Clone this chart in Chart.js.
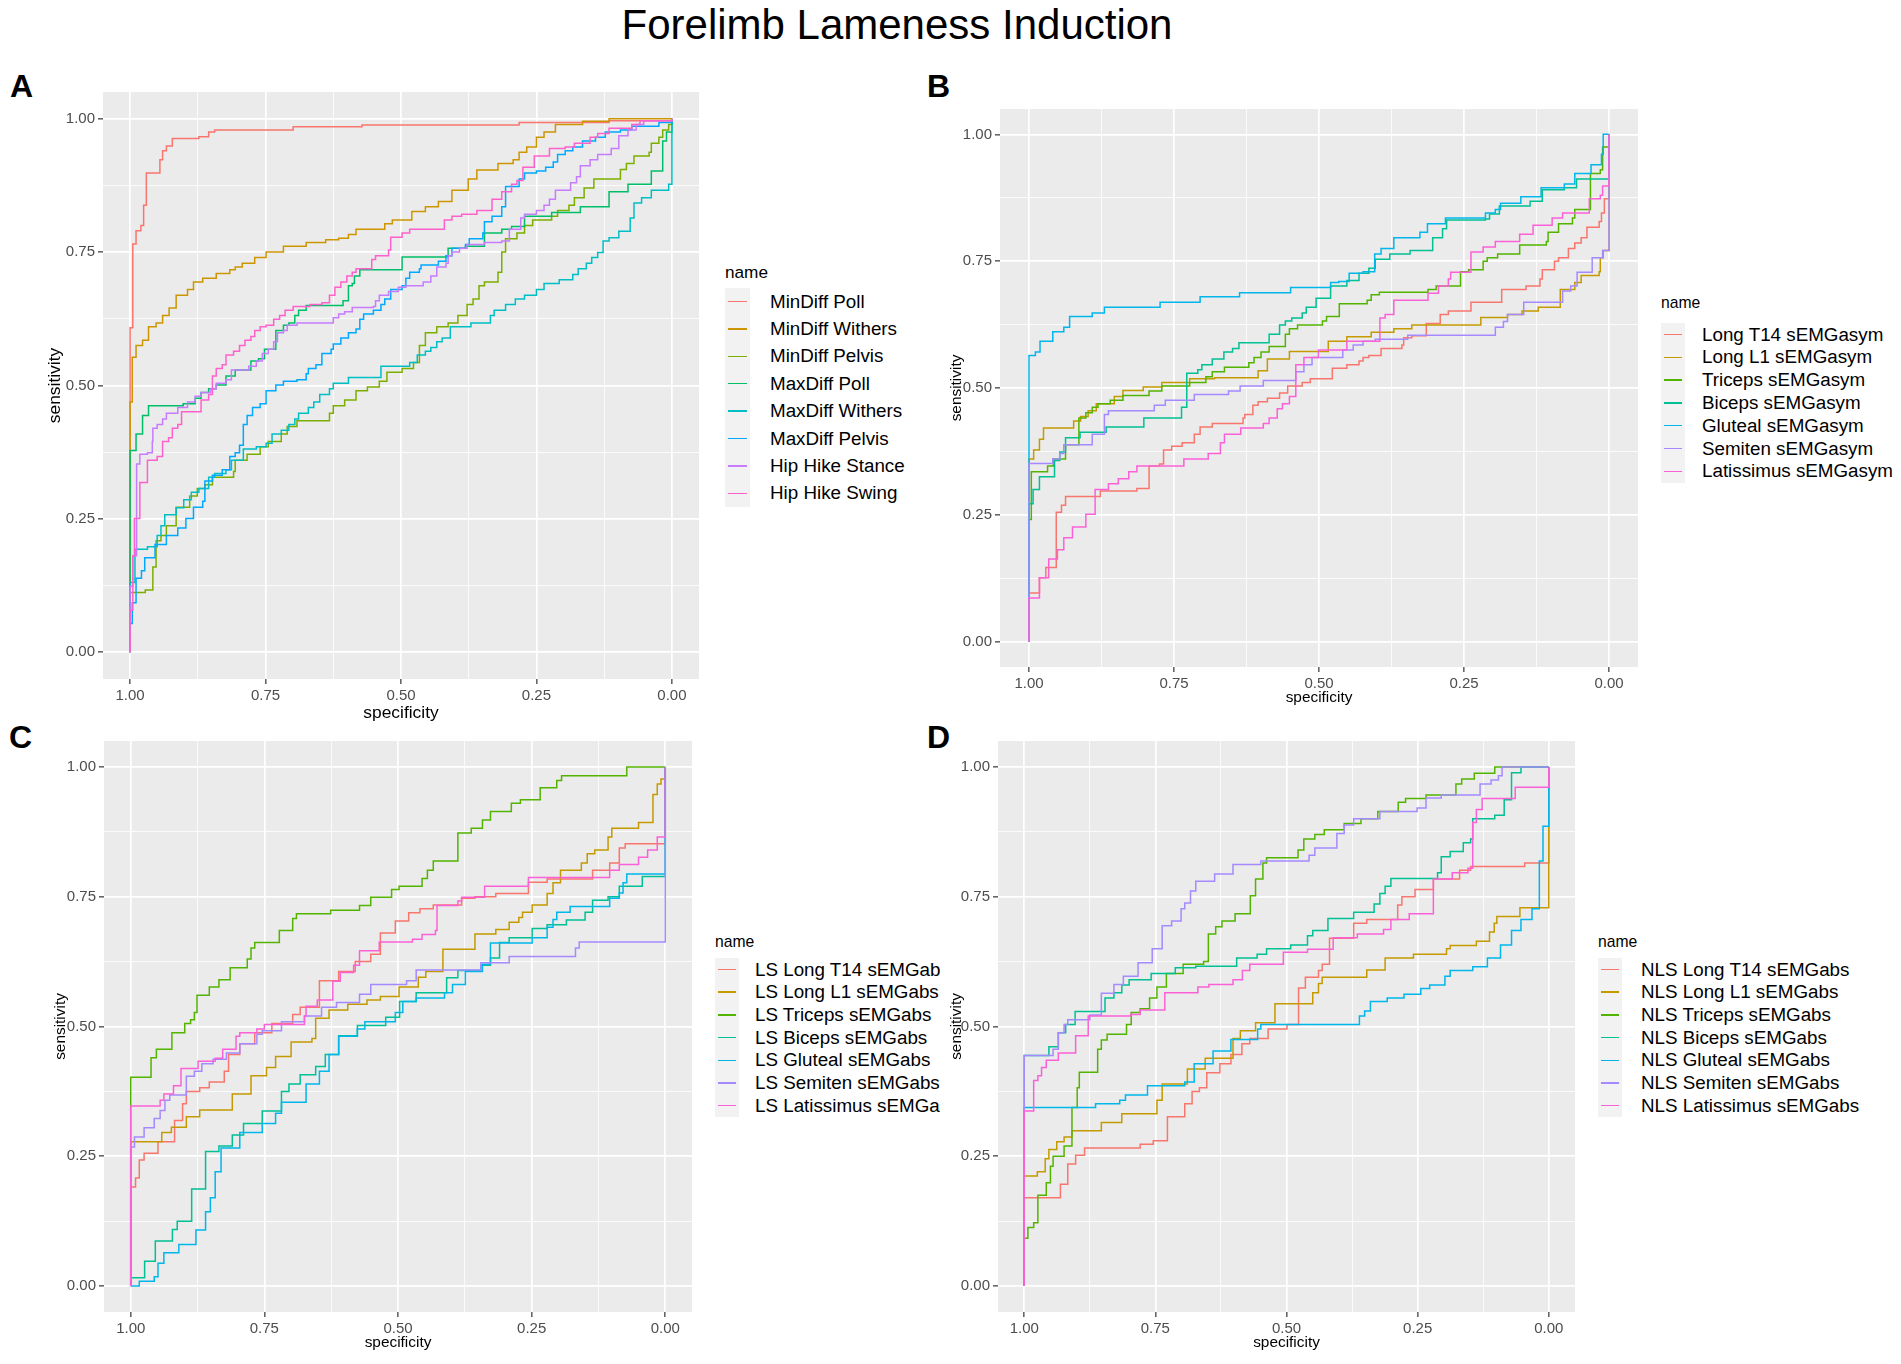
<!DOCTYPE html>
<html>
<head>
<meta charset="utf-8">
<script src="https://cdn.jsdelivr.net/npm/chart.js@4.4.1/dist/chart.umd.min.js"></script>
<style>
html,body{margin:0;padding:0;background:#ffffff;}
#page{position:relative;width:1901px;height:1364px;overflow:hidden;background:#fff;font-family:"Liberation Sans",Arial,Helvetica,sans-serif;color:#000;}
.t{position:absolute;white-space:nowrap;line-height:1;}
canvas{position:absolute;}
</style>
</head>
<body>
<div id="page"></div>
<script>
// ---------------- DATA ----------------
const majorTicks = [0, 0.25, 0.5, 0.75, 1];
const minorTicks = [0.125, 0.375, 0.625, 0.875];
const tickLabels = ['0.00', '0.25', '0.50', '0.75', '1.00'];

const hue8 = ['#F8766D','#CD9600','#7CAE00','#00BE67','#00BFC4','#00A9FF','#C77CFF','#FF61CC'];
const hue7 = ['#F8766D','#C49A00','#53B400','#00C094','#00B6EB','#A58AFF','#FB61D7'];

const namesA = ['MinDiff Poll','MinDiff Withers','MinDiff Pelvis','MaxDiff Poll','MaxDiff Withers','MaxDiff Pelvis','Hip Hike Stance','Hip Hike Swing'];
const namesB = ['Long T14 sEMGasym','Long L1 sEMGasym','Triceps sEMGasym','Biceps sEMGasym','Gluteal sEMGasym','Semiten sEMGasym','Latissimus sEMGasym'];
const namesC = ['LS Long T14 sEMGab','LS Long L1 sEMGabs','LS Triceps sEMGabs','LS Biceps sEMGabs','LS Gluteal sEMGabs','LS Semiten sEMGabs','LS Latissimus sEMGa'];
const namesD = ['NLS Long T14 sEMGabs','NLS Long L1 sEMGabs','NLS Triceps sEMGabs','NLS Biceps sEMGabs','NLS Gluteal sEMGabs','NLS Semiten sEMGabs','NLS Latissimus sEMGabs'];

// each pair = [specificity, sensitivity]
const A_MinDiffPoll = [[1,0],[1,0.608],[0.995,0.765],[0.989,0.79],[0.98,0.8],[0.975,0.838],[0.97,0.898],[0.945,0.923],[0.94,0.94],[0.933,0.949],[0.922,0.963],[0.873,0.966],[0.855,0.975],[0.844,0.979],[0.699,0.985],[0.572,0.988],[0.282,0.993],[0.116,0.996],[0,1]];
const A_MinDiffWithers = [[1,0],[1,0.469],[0.996,0.553],[0.989,0.575],[0.977,0.585],[0.966,0.61],[0.952,0.617],[0.94,0.631],[0.928,0.645],[0.915,0.669],[0.894,0.68],[0.883,0.694],[0.866,0.701],[0.841,0.71],[0.816,0.717],[0.806,0.722],[0.793,0.729],[0.77,0.74],[0.749,0.75],[0.717,0.761],[0.675,0.768],[0.639,0.773],[0.615,0.776],[0.597,0.783],[0.583,0.793],[0.53,0.803],[0.516,0.81],[0.48,0.826],[0.455,0.835],[0.431,0.845],[0.406,0.866],[0.376,0.887],[0.36,0.904],[0.321,0.916],[0.293,0.923],[0.282,0.937],[0.268,0.947],[0.25,0.965],[0.236,0.975],[0.215,0.989],[0.165,0.995],[0.116,1],[0,1]];
const A_MinDiffPelvis = [[1,0],[1,0.112],[0.972,0.117],[0.958,0.16],[0.952,0.209],[0.943,0.219],[0.933,0.237],[0.915,0.272],[0.89,0.293],[0.876,0.307],[0.862,0.314],[0.848,0.328],[0.809,0.339],[0.806,0.36],[0.784,0.371],[0.76,0.385],[0.745,0.395],[0.721,0.409],[0.71,0.423],[0.692,0.434],[0.632,0.448],[0.625,0.462],[0.604,0.473],[0.583,0.49],[0.562,0.497],[0.54,0.508],[0.526,0.525],[0.498,0.532],[0.477,0.543],[0.466,0.575],[0.455,0.599],[0.434,0.61],[0.413,0.617],[0.395,0.631],[0.378,0.652],[0.367,0.662],[0.356,0.687],[0.346,0.694],[0.321,0.712],[0.314,0.75],[0.307,0.775],[0.286,0.786],[0.272,0.8],[0.257,0.81],[0.222,0.817],[0.211,0.828],[0.19,0.838],[0.18,0.852],[0.162,0.87],[0.144,0.887],[0.095,0.905],[0.084,0.916],[0.07,0.93],[0.042,0.937],[0.038,0.954],[0.024,0.965],[0.017,0.979],[0.006,0.989],[0,1]];
const A_MaxDiffPoll = [[1,0],[1,0.378],[0.989,0.409],[0.977,0.444],[0.966,0.462],[0.902,0.466],[0.88,0.476],[0.869,0.487],[0.855,0.494],[0.841,0.501],[0.823,0.518],[0.806,0.529],[0.777,0.546],[0.763,0.55],[0.752,0.568],[0.731,0.603],[0.717,0.613],[0.707,0.617],[0.696,0.631],[0.689,0.641],[0.675,0.65],[0.607,0.659],[0.597,0.687],[0.59,0.691],[0.586,0.705],[0.576,0.717],[0.498,0.741],[0.413,0.757],[0.381,0.761],[0.346,0.786],[0.314,0.793],[0.296,0.798],[0.272,0.817],[0.222,0.824],[0.169,0.835],[0.116,0.863],[0.081,0.877],[0.038,0.902],[0.017,0.958],[0.01,0.975],[0,1]];
const A_MaxDiffWithers = [[1,0],[1,0.131],[0.991,0.193],[0.968,0.198],[0.95,0.219],[0.943,0.237],[0.936,0.258],[0.915,0.271],[0.901,0.286],[0.887,0.3],[0.873,0.307],[0.855,0.328],[0.844,0.335],[0.823,0.342],[0.813,0.36],[0.791,0.381],[0.767,0.385],[0.749,0.392],[0.738,0.409],[0.721,0.416],[0.707,0.427],[0.696,0.437],[0.689,0.448],[0.671,0.459],[0.661,0.469],[0.65,0.483],[0.632,0.494],[0.625,0.504],[0.597,0.515],[0.537,0.536],[0.484,0.543],[0.47,0.557],[0.455,0.564],[0.445,0.571],[0.434,0.582],[0.424,0.589],[0.409,0.61],[0.371,0.617],[0.335,0.631],[0.328,0.641],[0.307,0.652],[0.289,0.662],[0.272,0.669],[0.25,0.68],[0.236,0.691],[0.208,0.698],[0.183,0.708],[0.173,0.719],[0.158,0.729],[0.148,0.74],[0.137,0.749],[0.127,0.771],[0.116,0.777],[0.098,0.789],[0.077,0.814],[0.07,0.842],[0.056,0.852],[0.038,0.866],[0.006,0.877],[0,0.926],[0,1]];
const A_MaxDiffPelvis = [[1,0],[1,0.054],[0.996,0.093],[0.989,0.139],[0.979,0.153],[0.973,0.177],[0.954,0.202],[0.933,0.219],[0.912,0.233],[0.897,0.251],[0.883,0.272],[0.866,0.283],[0.862,0.321],[0.848,0.332],[0.83,0.342],[0.816,0.367],[0.806,0.374],[0.798,0.388],[0.791,0.427],[0.784,0.444],[0.774,0.459],[0.76,0.466],[0.749,0.49],[0.731,0.501],[0.717,0.508],[0.692,0.511],[0.675,0.522],[0.671,0.532],[0.657,0.539],[0.646,0.56],[0.629,0.568],[0.625,0.578],[0.611,0.589],[0.597,0.599],[0.583,0.606],[0.576,0.624],[0.569,0.634],[0.551,0.641],[0.537,0.652],[0.53,0.662],[0.519,0.68],[0.498,0.687],[0.491,0.701],[0.484,0.712],[0.466,0.719],[0.463,0.726],[0.431,0.733],[0.417,0.743],[0.406,0.757],[0.381,0.764],[0.374,0.775],[0.349,0.786],[0.346,0.807],[0.332,0.817],[0.314,0.835],[0.307,0.873],[0.282,0.887],[0.272,0.898],[0.25,0.902],[0.233,0.909],[0.219,0.919],[0.211,0.933],[0.197,0.94],[0.183,0.947],[0.165,0.958],[0.141,0.965],[0.123,0.975],[0.095,0.979],[0.074,0.986],[0.024,0.993],[0,1]];
const A_HipHikeStance = [[1,0],[1,0.124],[0.995,0.181],[0.988,0.353],[0.982,0.371],[0.968,0.374],[0.959,0.395],[0.958,0.42],[0.95,0.427],[0.94,0.437],[0.933,0.448],[0.912,0.459],[0.894,0.469],[0.88,0.48],[0.869,0.487],[0.851,0.494],[0.841,0.504],[0.823,0.511],[0.813,0.529],[0.781,0.536],[0.767,0.546],[0.756,0.56],[0.745,0.568],[0.735,0.582],[0.728,0.599],[0.717,0.603],[0.71,0.613],[0.692,0.617],[0.625,0.627],[0.615,0.634],[0.604,0.638],[0.59,0.646],[0.551,0.648],[0.547,0.659],[0.54,0.669],[0.523,0.676],[0.505,0.684],[0.491,0.687],[0.459,0.694],[0.445,0.705],[0.434,0.722],[0.417,0.729],[0.413,0.743],[0.406,0.75],[0.392,0.757],[0.378,0.764],[0.346,0.768],[0.314,0.771],[0.3,0.793],[0.279,0.814],[0.272,0.821],[0.25,0.828],[0.236,0.838],[0.226,0.849],[0.215,0.866],[0.187,0.88],[0.176,0.891],[0.169,0.912],[0.151,0.923],[0.137,0.933],[0.112,0.944],[0.098,0.968],[0.081,0.979],[0.066,0.989],[0.052,0.996],[0,1]];
const A_HipHikeSwing = [[1,0],[1,0.079],[0.995,0.181],[0.992,0.251],[0.982,0.318],[0.968,0.36],[0.95,0.367],[0.94,0.395],[0.929,0.402],[0.922,0.42],[0.912,0.427],[0.905,0.451],[0.869,0.473],[0.855,0.483],[0.848,0.518],[0.841,0.532],[0.83,0.539],[0.823,0.557],[0.809,0.564],[0.798,0.575],[0.788,0.585],[0.777,0.592],[0.77,0.603],[0.76,0.61],[0.749,0.613],[0.735,0.624],[0.724,0.631],[0.714,0.641],[0.699,0.648],[0.668,0.652],[0.646,0.655],[0.632,0.669],[0.622,0.684],[0.611,0.694],[0.6,0.705],[0.59,0.712],[0.583,0.719],[0.554,0.736],[0.547,0.743],[0.523,0.754],[0.519,0.778],[0.498,0.786],[0.484,0.793],[0.42,0.81],[0.406,0.817],[0.388,0.821],[0.36,0.828],[0.332,0.849],[0.314,0.863],[0.296,0.877],[0.286,0.884],[0.275,0.909],[0.254,0.93],[0.226,0.944],[0.197,0.947],[0.18,0.954],[0.151,0.965],[0.137,0.972],[0.116,0.982],[0.074,0.989],[0.059,0.996],[0,1]];

const B_LongT14 = [[1,0],[1,0.096],[0.982,0.126],[0.971,0.146],[0.953,0.255],[0.944,0.269],[0.937,0.286],[0.877,0.297],[0.814,0.302],[0.793,0.346],[0.775,0.35],[0.768,0.378],[0.754,0.385],[0.736,0.392],[0.715,0.409],[0.705,0.423],[0.684,0.43],[0.631,0.441],[0.628,0.448],[0.614,0.466],[0.605,0.473],[0.589,0.48],[0.568,0.49],[0.554,0.504],[0.529,0.511],[0.515,0.518],[0.477,0.539],[0.452,0.546],[0.431,0.553],[0.424,0.56],[0.414,0.564],[0.393,0.578],[0.357,0.585],[0.354,0.599],[0.34,0.603],[0.315,0.627],[0.291,0.645],[0.277,0.652],[0.238,0.669],[0.185,0.694],[0.143,0.701],[0.119,0.715],[0.115,0.733],[0.094,0.75],[0.087,0.757],[0.07,0.775],[0.059,0.786],[0.048,0.796],[0.038,0.817],[0.017,0.828],[0.013,0.845],[0.008,0.873],[0,0.873],[0,1]];
const B_LongL1 = [[1,0],[1,0.36],[0.992,0.378],[0.982,0.399],[0.975,0.421],[0.923,0.435],[0.911,0.444],[0.898,0.455],[0.884,0.469],[0.853,0.483],[0.838,0.495],[0.803,0.502],[0.771,0.511],[0.723,0.518],[0.68,0.52],[0.605,0.534],[0.589,0.557],[0.551,0.572],[0.484,0.592],[0.452,0.601],[0.41,0.61],[0.371,0.617],[0.34,0.624],[0.221,0.639],[0.175,0.645],[0.15,0.652],[0.122,0.659],[0.084,0.694],[0.059,0.708],[0.048,0.722],[0.017,0.729],[0.015,0.757],[0.01,0.771],[0,0.775],[0,1]];
const B_Triceps = [[1,0],[1,0.241],[0.996,0.335],[0.968,0.346],[0.958,0.36],[0.937,0.388],[0.914,0.441],[0.902,0.451],[0.891,0.462],[0.881,0.469],[0.86,0.476],[0.838,0.485],[0.793,0.494],[0.771,0.504],[0.723,0.511],[0.695,0.522],[0.684,0.532],[0.663,0.541],[0.621,0.55],[0.612,0.56],[0.6,0.571],[0.586,0.582],[0.558,0.606],[0.551,0.617],[0.537,0.624],[0.494,0.632],[0.487,0.641],[0.465,0.666],[0.417,0.673],[0.41,0.684],[0.396,0.689],[0.312,0.694],[0.298,0.701],[0.256,0.729],[0.242,0.733],[0.217,0.75],[0.21,0.757],[0.192,0.764],[0.154,0.782],[0.108,0.789],[0.105,0.807],[0.087,0.824],[0.063,0.835],[0.059,0.852],[0.032,0.923],[0.015,0.93],[0.011,0.975],[0,0.977],[0,1]];
const B_Biceps = [[1,0],[1,0.272],[0.993,0.3],[0.982,0.325],[0.956,0.357],[0.947,0.374],[0.937,0.402],[0.912,0.413],[0.867,0.423],[0.802,0.441],[0.737,0.462],[0.728,0.529],[0.709,0.536],[0.702,0.546],[0.684,0.557],[0.664,0.571],[0.649,0.578],[0.638,0.589],[0.586,0.606],[0.568,0.624],[0.558,0.632],[0.547,0.638],[0.529,0.648],[0.522,0.659],[0.505,0.677],[0.48,0.701],[0.452,0.712],[0.431,0.726],[0.414,0.736],[0.403,0.754],[0.378,0.764],[0.343,0.771],[0.304,0.796],[0.287,0.814],[0.28,0.831],[0.213,0.833],[0.206,0.843],[0.189,0.859],[0.136,0.868],[0.115,0.891],[0.077,0.895],[0.056,0.912],[0,0.912],[0,1]];
const B_Gluteal = [[1,0],[1,0.564],[0.989,0.571],[0.981,0.592],[0.959,0.611],[0.94,0.62],[0.93,0.641],[0.891,0.648],[0.87,0.659],[0.774,0.669],[0.705,0.68],[0.637,0.688],[0.549,0.698],[0.48,0.708],[0.466,0.71],[0.448,0.726],[0.424,0.729],[0.404,0.764],[0.393,0.775],[0.371,0.796],[0.326,0.807],[0.313,0.824],[0.282,0.835],[0.213,0.845],[0.196,0.852],[0.187,0.864],[0.152,0.877],[0.117,0.895],[0.077,0.902],[0.059,0.923],[0.031,0.94],[0.013,0.961],[0.01,1],[0,1]];
const B_Semiten = [[1,0],[1,0.351],[0.959,0.36],[0.947,0.371],[0.94,0.388],[0.891,0.409],[0.87,0.448],[0.863,0.455],[0.784,0.466],[0.765,0.476],[0.715,0.487],[0.656,0.494],[0.636,0.504],[0.596,0.515],[0.54,0.532],[0.526,0.546],[0.512,0.56],[0.459,0.575],[0.441,0.585],[0.424,0.592],[0.403,0.596],[0.347,0.604],[0.196,0.62],[0.182,0.631],[0.175,0.645],[0.147,0.669],[0.08,0.691],[0.066,0.701],[0.055,0.728],[0.029,0.757],[0.011,0.771],[0,0.775],[0,1]];
const B_Latissimus = [[1,0],[1,0.086],[0.982,0.126],[0.966,0.163],[0.951,0.181],[0.94,0.205],[0.925,0.226],[0.902,0.251],[0.886,0.3],[0.863,0.311],[0.846,0.321],[0.828,0.335],[0.814,0.346],[0.733,0.36],[0.691,0.371],[0.67,0.392],[0.663,0.409],[0.635,0.421],[0.596,0.43],[0.586,0.441],[0.572,0.459],[0.563,0.469],[0.551,0.483],[0.54,0.546],[0.526,0.56],[0.501,0.575],[0.452,0.592],[0.395,0.638],[0.386,0.645],[0.371,0.673],[0.312,0.687],[0.294,0.701],[0.277,0.715],[0.273,0.728],[0.238,0.768],[0.217,0.778],[0.196,0.789],[0.154,0.803],[0.131,0.821],[0.098,0.835],[0.08,0.845],[0.034,0.873],[0.015,0.88],[0.011,0.898],[0,0.902],[0,1]];

const C_LongT14 = [[1,0],[1,0.191],[0.991,0.208],[0.984,0.243],[0.975,0.256],[0.949,0.278],[0.918,0.319],[0.903,0.351],[0.896,0.375],[0.871,0.382],[0.853,0.393],[0.825,0.414],[0.817,0.446],[0.796,0.467],[0.768,0.488],[0.736,0.506],[0.697,0.523],[0.683,0.537],[0.647,0.588],[0.611,0.606],[0.58,0.625],[0.551,0.639],[0.533,0.68],[0.505,0.703],[0.48,0.719],[0.459,0.727],[0.434,0.734],[0.381,0.747],[0.356,0.75],[0.317,0.756],[0.256,0.778],[0.221,0.784],[0.136,0.801],[0.104,0.815],[0.086,0.844],[0.075,0.852],[0,0.852],[0,1]];
const C_LongL1 = [[1,0],[1,0.278],[0.942,0.296],[0.924,0.306],[0.896,0.326],[0.871,0.339],[0.81,0.37],[0.775,0.405],[0.746,0.421],[0.729,0.442],[0.7,0.47],[0.661,0.477],[0.654,0.516],[0.629,0.532],[0.594,0.543],[0.558,0.551],[0.533,0.558],[0.498,0.576],[0.462,0.595],[0.448,0.606],[0.416,0.649],[0.356,0.678],[0.317,0.687],[0.292,0.701],[0.274,0.71],[0.267,0.72],[0.249,0.734],[0.221,0.756],[0.21,0.777],[0.196,0.801],[0.157,0.815],[0.146,0.833],[0.132,0.84],[0.107,0.865],[0.1,0.882],[0.05,0.893],[0.023,0.947],[0.015,0.967],[0.008,0.977],[0,1]];
const C_Triceps = [[1,0],[1,0.402],[0.962,0.44],[0.952,0.456],[0.923,0.488],[0.899,0.506],[0.888,0.513],[0.881,0.527],[0.876,0.56],[0.853,0.576],[0.835,0.59],[0.814,0.613],[0.782,0.63],[0.775,0.651],[0.768,0.662],[0.722,0.685],[0.697,0.708],[0.69,0.717],[0.626,0.724],[0.572,0.733],[0.551,0.749],[0.512,0.764],[0.498,0.77],[0.455,0.785],[0.445,0.801],[0.434,0.819],[0.388,0.873],[0.363,0.882],[0.342,0.898],[0.327,0.914],[0.288,0.93],[0.271,0.937],[0.234,0.96],[0.203,0.974],[0.194,0.983],[0.072,1],[0,1]];
const C_Biceps = [[1,0],[1,0.016],[0.974,0.048],[0.954,0.087],[0.922,0.109],[0.913,0.125],[0.886,0.187],[0.86,0.259],[0.835,0.27],[0.81,0.291],[0.789,0.313],[0.754,0.337],[0.718,0.375],[0.704,0.389],[0.683,0.407],[0.654,0.423],[0.636,0.446],[0.611,0.482],[0.576,0.502],[0.523,0.518],[0.497,0.548],[0.466,0.565],[0.409,0.594],[0.388,0.608],[0.345,0.618],[0.327,0.632],[0.31,0.662],[0.292,0.671],[0.249,0.689],[0.221,0.696],[0.185,0.705],[0.15,0.72],[0.136,0.743],[0.107,0.75],[0.086,0.77],[0.043,0.789],[0,0.789],[0,1]];
const C_Gluteal = [[1,0],[0.984,0.009],[0.956,0.018],[0.949,0.044],[0.938,0.064],[0.91,0.08],[0.878,0.108],[0.86,0.143],[0.851,0.17],[0.842,0.22],[0.831,0.266],[0.796,0.296],[0.754,0.313],[0.729,0.333],[0.718,0.354],[0.672,0.389],[0.647,0.414],[0.629,0.446],[0.611,0.481],[0.576,0.495],[0.562,0.509],[0.505,0.527],[0.491,0.548],[0.466,0.555],[0.413,0.565],[0.398,0.581],[0.374,0.606],[0.342,0.62],[0.327,0.661],[0.249,0.671],[0.221,0.691],[0.21,0.706],[0.203,0.72],[0.178,0.731],[0.104,0.747],[0.086,0.757],[0.079,0.777],[0.072,0.794],[0,0.796],[0,1]];
const C_Semiten = [[1,0],[1,0.268],[0.993,0.287],[0.975,0.305],[0.956,0.323],[0.945,0.338],[0.936,0.358],[0.927,0.368],[0.896,0.404],[0.881,0.414],[0.867,0.428],[0.846,0.437],[0.821,0.449],[0.796,0.467],[0.764,0.485],[0.754,0.492],[0.718,0.509],[0.675,0.52],[0.643,0.537],[0.615,0.546],[0.572,0.562],[0.551,0.581],[0.484,0.588],[0.466,0.609],[0.345,0.623],[0.292,0.635],[0.168,0.651],[0.161,0.663],[0,0.663],[0,1]];
const C_Latissimus = [[1,0],[1,0.347],[0.945,0.358],[0.938,0.37],[0.92,0.386],[0.906,0.419],[0.874,0.433],[0.842,0.439],[0.828,0.456],[0.803,0.481],[0.796,0.488],[0.764,0.495],[0.75,0.504],[0.675,0.52],[0.672,0.539],[0.651,0.551],[0.622,0.587],[0.608,0.604],[0.583,0.618],[0.572,0.646],[0.535,0.663],[0.473,0.668],[0.455,0.677],[0.43,0.685],[0.427,0.733],[0.388,0.742],[0.381,0.749],[0.338,0.77],[0.256,0.787],[0.104,0.801],[0.086,0.812],[0.05,0.826],[0.033,0.84],[0.015,0.865],[0,0.866],[0,1]];

const D_LongT14 = [[1,0],[1,0.17],[0.931,0.196],[0.917,0.235],[0.902,0.252],[0.885,0.266],[0.779,0.273],[0.754,0.28],[0.727,0.326],[0.694,0.351],[0.68,0.375],[0.666,0.382],[0.652,0.411],[0.627,0.428],[0.606,0.446],[0.585,0.467],[0.57,0.477],[0.535,0.495],[0.499,0.504],[0.477,0.574],[0.464,0.595],[0.439,0.608],[0.432,0.62],[0.418,0.67],[0.372,0.699],[0.347,0.706],[0.288,0.734],[0.28,0.75],[0.255,0.764],[0.22,0.784],[0.17,0.801],[0.149,0.808],[0.046,0.815],[0,0.819],[0,1]];
const D_LongL1 = [[1,0],[1,0.212],[0.975,0.22],[0.96,0.245],[0.953,0.263],[0.938,0.278],[0.924,0.287],[0.909,0.299],[0.853,0.315],[0.814,0.332],[0.747,0.358],[0.737,0.389],[0.689,0.418],[0.655,0.439],[0.602,0.477],[0.588,0.492],[0.559,0.507],[0.522,0.544],[0.45,0.565],[0.439,0.583],[0.432,0.595],[0.347,0.609],[0.312,0.632],[0.258,0.639],[0.195,0.65],[0.188,0.656],[0.138,0.664],[0.113,0.682],[0.104,0.699],[0.099,0.712],[0.055,0.729],[0,0.729],[0,1]];
const D_Triceps = [[1,0],[1,0.092],[0.993,0.113],[0.982,0.122],[0.974,0.175],[0.958,0.199],[0.95,0.231],[0.945,0.25],[0.924,0.27],[0.909,0.344],[0.899,0.382],[0.895,0.412],[0.86,0.456],[0.853,0.474],[0.842,0.485],[0.805,0.504],[0.796,0.527],[0.779,0.534],[0.761,0.555],[0.747,0.576],[0.729,0.602],[0.697,0.62],[0.658,0.625],[0.649,0.678],[0.635,0.692],[0.623,0.703],[0.598,0.717],[0.569,0.752],[0.559,0.784],[0.545,0.815],[0.538,0.825],[0.478,0.84],[0.467,0.861],[0.446,0.87],[0.428,0.879],[0.39,0.891],[0.358,0.9],[0.326,0.914],[0.287,0.932],[0.273,0.939],[0.234,0.946],[0.177,0.967],[0.166,0.977],[0.142,0.988],[0.103,1],[0,1]];
const D_Biceps = [[1,0],[1,0.444],[0.953,0.461],[0.935,0.488],[0.921,0.504],[0.903,0.529],[0.846,0.555],[0.829,0.565],[0.814,0.58],[0.8,0.59],[0.758,0.602],[0.712,0.613],[0.673,0.616],[0.595,0.632],[0.556,0.639],[0.538,0.65],[0.492,0.657],[0.46,0.675],[0.45,0.685],[0.421,0.708],[0.372,0.72],[0.333,0.736],[0.322,0.756],[0.312,0.77],[0.301,0.785],[0.212,0.796],[0.205,0.827],[0.188,0.837],[0.163,0.854],[0.149,0.861],[0.145,0.9],[0.103,0.907],[0.085,0.937],[0.071,0.989],[0.053,1],[0,1]];
const D_Gluteal = [[1,0],[1,0.344],[0.864,0.351],[0.818,0.358],[0.807,0.368],[0.765,0.386],[0.694,0.393],[0.676,0.428],[0.64,0.453],[0.606,0.475],[0.555,0.495],[0.549,0.504],[0.361,0.52],[0.351,0.53],[0.34,0.548],[0.308,0.555],[0.276,0.562],[0.244,0.573],[0.227,0.58],[0.198,0.597],[0.188,0.608],[0.145,0.615],[0.117,0.632],[0.092,0.657],[0.071,0.685],[0.053,0.706],[0.032,0.727],[0.018,0.819],[0.011,0.886],[0,0.96],[0,1]];
const D_Semiten = [[1,0],[1,0.444],[0.945,0.456],[0.935,0.488],[0.924,0.504],[0.917,0.513],[0.875,0.522],[0.853,0.564],[0.829,0.581],[0.811,0.597],[0.783,0.623],[0.756,0.65],[0.737,0.694],[0.719,0.703],[0.701,0.727],[0.694,0.738],[0.683,0.761],[0.673,0.78],[0.637,0.794],[0.602,0.812],[0.549,0.819],[0.457,0.83],[0.446,0.844],[0.404,0.872],[0.39,0.888],[0.372,0.9],[0.322,0.914],[0.251,0.921],[0.234,0.94],[0.205,0.946],[0.131,0.967],[0.11,0.975],[0.096,0.983],[0.089,1],[0,1]];
const D_Latissimus = [[1,0],[1,0.337],[0.982,0.396],[0.974,0.405],[0.967,0.421],[0.958,0.435],[0.935,0.449],[0.902,0.482],[0.878,0.52],[0.797,0.523],[0.779,0.532],[0.732,0.565],[0.669,0.576],[0.648,0.581],[0.602,0.59],[0.584,0.608],[0.57,0.62],[0.506,0.643],[0.46,0.649],[0.411,0.671],[0.365,0.678],[0.315,0.687],[0.301,0.706],[0.266,0.717],[0.22,0.784],[0.184,0.796],[0.154,0.805],[0.145,0.893],[0.138,0.918],[0.127,0.939],[0.064,0.961],[0,0.961],[0,1]];

const seriesA = [A_MinDiffPoll, A_MinDiffWithers, A_MinDiffPelvis, A_MaxDiffPoll, A_MaxDiffWithers, A_MaxDiffPelvis, A_HipHikeStance, A_HipHikeSwing];
const seriesB = [B_LongT14, B_LongL1, B_Triceps, B_Biceps, B_Gluteal, B_Semiten, B_Latissimus];
const seriesC = [C_LongT14, C_LongL1, C_Triceps, C_Biceps, C_Gluteal, C_Semiten, C_Latissimus];
const seriesD = [D_LongT14, D_LongL1, D_Triceps, D_Biceps, D_Gluteal, D_Semiten, D_Latissimus];

// ---------------- LAYOUT ----------------
const FONT = '"Liberation Sans", Arial, Helvetica, sans-serif';
const page = document.getElementById('page');

const panels = [
  {letter:'A', lx:10, lbase:97, names:namesA, series:seriesA, colors:hue8,
   area:{l:103,t:92,r:699,b:679}, titleSize:17.4, yTitleX:55, xTitleY:714,
   leg:{x:725, nameY:273, nameSize:17.2, textX:770, y0:301.5, dy:27.4, keyW:25}},
  {letter:'B', lx:927, lbase:97, names:namesB, series:seriesB, colors:hue7,
   area:{l:1000,t:109,r:1638,b:667}, titleSize:15.4, yTitleX:957, xTitleY:698,
   leg:{x:1661, nameY:303, nameSize:15.7, textX:1702, y0:334.5, dy:22.8, keyW:24}},
  {letter:'C', lx:9, lbase:748, names:namesC, series:seriesC, colors:hue7,
   area:{l:104,t:741,r:692,b:1312}, titleSize:15.4, yTitleX:61, xTitleY:1343,
   leg:{x:715, nameY:942, nameSize:15.7, textX:755, y0:969.5, dy:22.7, keyW:24}},
  {letter:'D', lx:927, lbase:748, names:namesD, series:seriesD, colors:hue7,
   area:{l:998,t:741,r:1575,b:1312}, titleSize:15.4, yTitleX:957, xTitleY:1343,
   leg:{x:1598, nameY:942, nameSize:15.7, textX:1641, y0:969.5, dy:22.7, keyW:24}}
];

function addText(txt, css) {
  const d = document.createElement('div');
  d.className = 't';
  d.textContent = txt;
  Object.assign(d.style, css);
  page.appendChild(d);
  return d;
}

// main title
addText('Forelimb Lameness Induction', {left:'897px', top:(40 - 0.8465*42)+'px', fontSize:'42px', transform:'translateX(-50%)'});

const isMajor = v => majorTicks.some(m => Math.abs(m - v) < 1e-9);
const labelFor = v => { const i = majorTicks.findIndex(m => Math.abs(m - v) < 1e-9); return i >= 0 ? tickLabels[i] : ''; };
const allTicks = majorTicks.concat(minorTicks).sort((a,b)=>a-b);

const panelBg = {
  id:'panelBg',
  beforeDraw(chart) {
    const a = chart.chartArea, ctx = chart.ctx;
    ctx.save(); ctx.fillStyle = '#EBEBEB';
    ctx.fillRect(a.left, a.top, a.right - a.left, a.bottom - a.top);
    ctx.restore();
  }
};

panels.forEach(p => {
  // panel letter
  addText(p.letter, {left:p.lx+'px', top:(p.lbase - 0.8465*32)+'px', fontSize:'32px', fontWeight:'bold'});

  const lh = p.titleSize * 1.2;
  const wY = Math.round(p.area.l - (p.yTitleX - lh/2));
  const hX = Math.round((p.xTitleY - p.area.b) + lh/2);
  const padT = 6, padR = 6;
  const cl = p.area.l - wY, ct = p.area.t - padT;
  const cw = wY + (p.area.r - p.area.l) + padR;
  const chh = padT + (p.area.b - p.area.t) + hX;

  const cv = document.createElement('canvas');
  cv.width = cw; cv.height = chh;
  cv.style.left = cl + 'px'; cv.style.top = ct + 'px';
  cv.style.width = cw + 'px'; cv.style.height = chh + 'px';
  page.appendChild(cv);

  const n = p.series.length;
  const datasets = p.series.map((s, i) => ({
    label: p.names[i],
    data: s.map(pt => ({x: pt[0], y: pt[1]})),
    borderColor: p.colors[i],
    borderWidth: 1.5,
    pointRadius: 0,
    fill: false,
    stepped: true,
    tension: 0,
    order: n - i
  }));

  const axisCommon = {
    type: 'linear', min: -0.05, max: 1.05,
    afterBuildTicks: ax => { ax.ticks = allTicks.map(v => ({value: v})); },
    ticks: {autoSkip:false, maxRotation:0, minRotation:0, padding:3, color:'#4D4D4D',
            font:{family:FONT, size:15}, callback: v => labelFor(v)},
    grid: {color:'#FFFFFF', lineWidth: c => (c.tick && isMajor(c.tick.value)) ? 1.7 : 0.8,
           drawTicks:true, tickLength:5, tickWidth:1.2,
           tickColor: c => (c.tick && isMajor(c.tick.value)) ? '#333333' : 'rgba(0,0,0,0)'},
    border: {display:false}
  };

  new Chart(cv.getContext('2d'), {
    type: 'line',
    data: {datasets},
    plugins: [panelBg],
    options: {
      responsive:false, animation:false, devicePixelRatio: 1,
      layout:{padding:{top:padT, right:padR, left:0, bottom:0}},
      plugins:{legend:{display:false}, tooltip:{enabled:false}},
      scales:{
        x: Object.assign({}, axisCommon, {
          reverse:true,
          afterFit: ax => { ax.height = hX; ax.paddingLeft = 0; ax.paddingRight = 0; ax.paddingTop = 0; ax.paddingBottom = 0; },
          title:{display:true, text:'specificity', color:'#000000', font:{family:FONT, size:p.titleSize}, padding:0}
        }),
        y: Object.assign({}, axisCommon, {
          afterFit: ax => { ax.width = wY; ax.paddingTop = 0; ax.paddingBottom = 0; ax.paddingLeft = 0; ax.paddingRight = 0; },
          title:{display:true, text:'sensitivity', color:'#000000', font:{family:FONT, size:p.titleSize}, padding:0}
        })
      }
    }
  });

  // legend (ggplot style)
  const L = p.leg;
  addText('name', {left:L.x+'px', top:L.nameY+'px', fontSize:L.nameSize+'px', transform:'translateY(-50%)'});
  const bgTop = L.y0 - L.dy/2, bgH = L.dy * n;
  const bg = document.createElement('div');
  Object.assign(bg.style, {position:'absolute', left:L.x+'px', top:bgTop+'px', width:L.keyW+'px', height:bgH+'px', background:'#F2F2F2'});
  page.appendChild(bg);
  p.names.forEach((nm, i) => {
    const cy = L.y0 + i * L.dy;
    const ln = document.createElement('div');
    Object.assign(ln.style, {position:'absolute', left:(L.x+3)+'px', top:(cy-0.75)+'px', width:(L.keyW-6)+'px', height:'1.5px', background:p.colors[i]});
    page.appendChild(ln);
    addText(nm, {left:L.textX+'px', top:cy+'px', fontSize:'18.8px', transform:'translateY(-50%)'});
  });
});
</script>
</body>
</html>
